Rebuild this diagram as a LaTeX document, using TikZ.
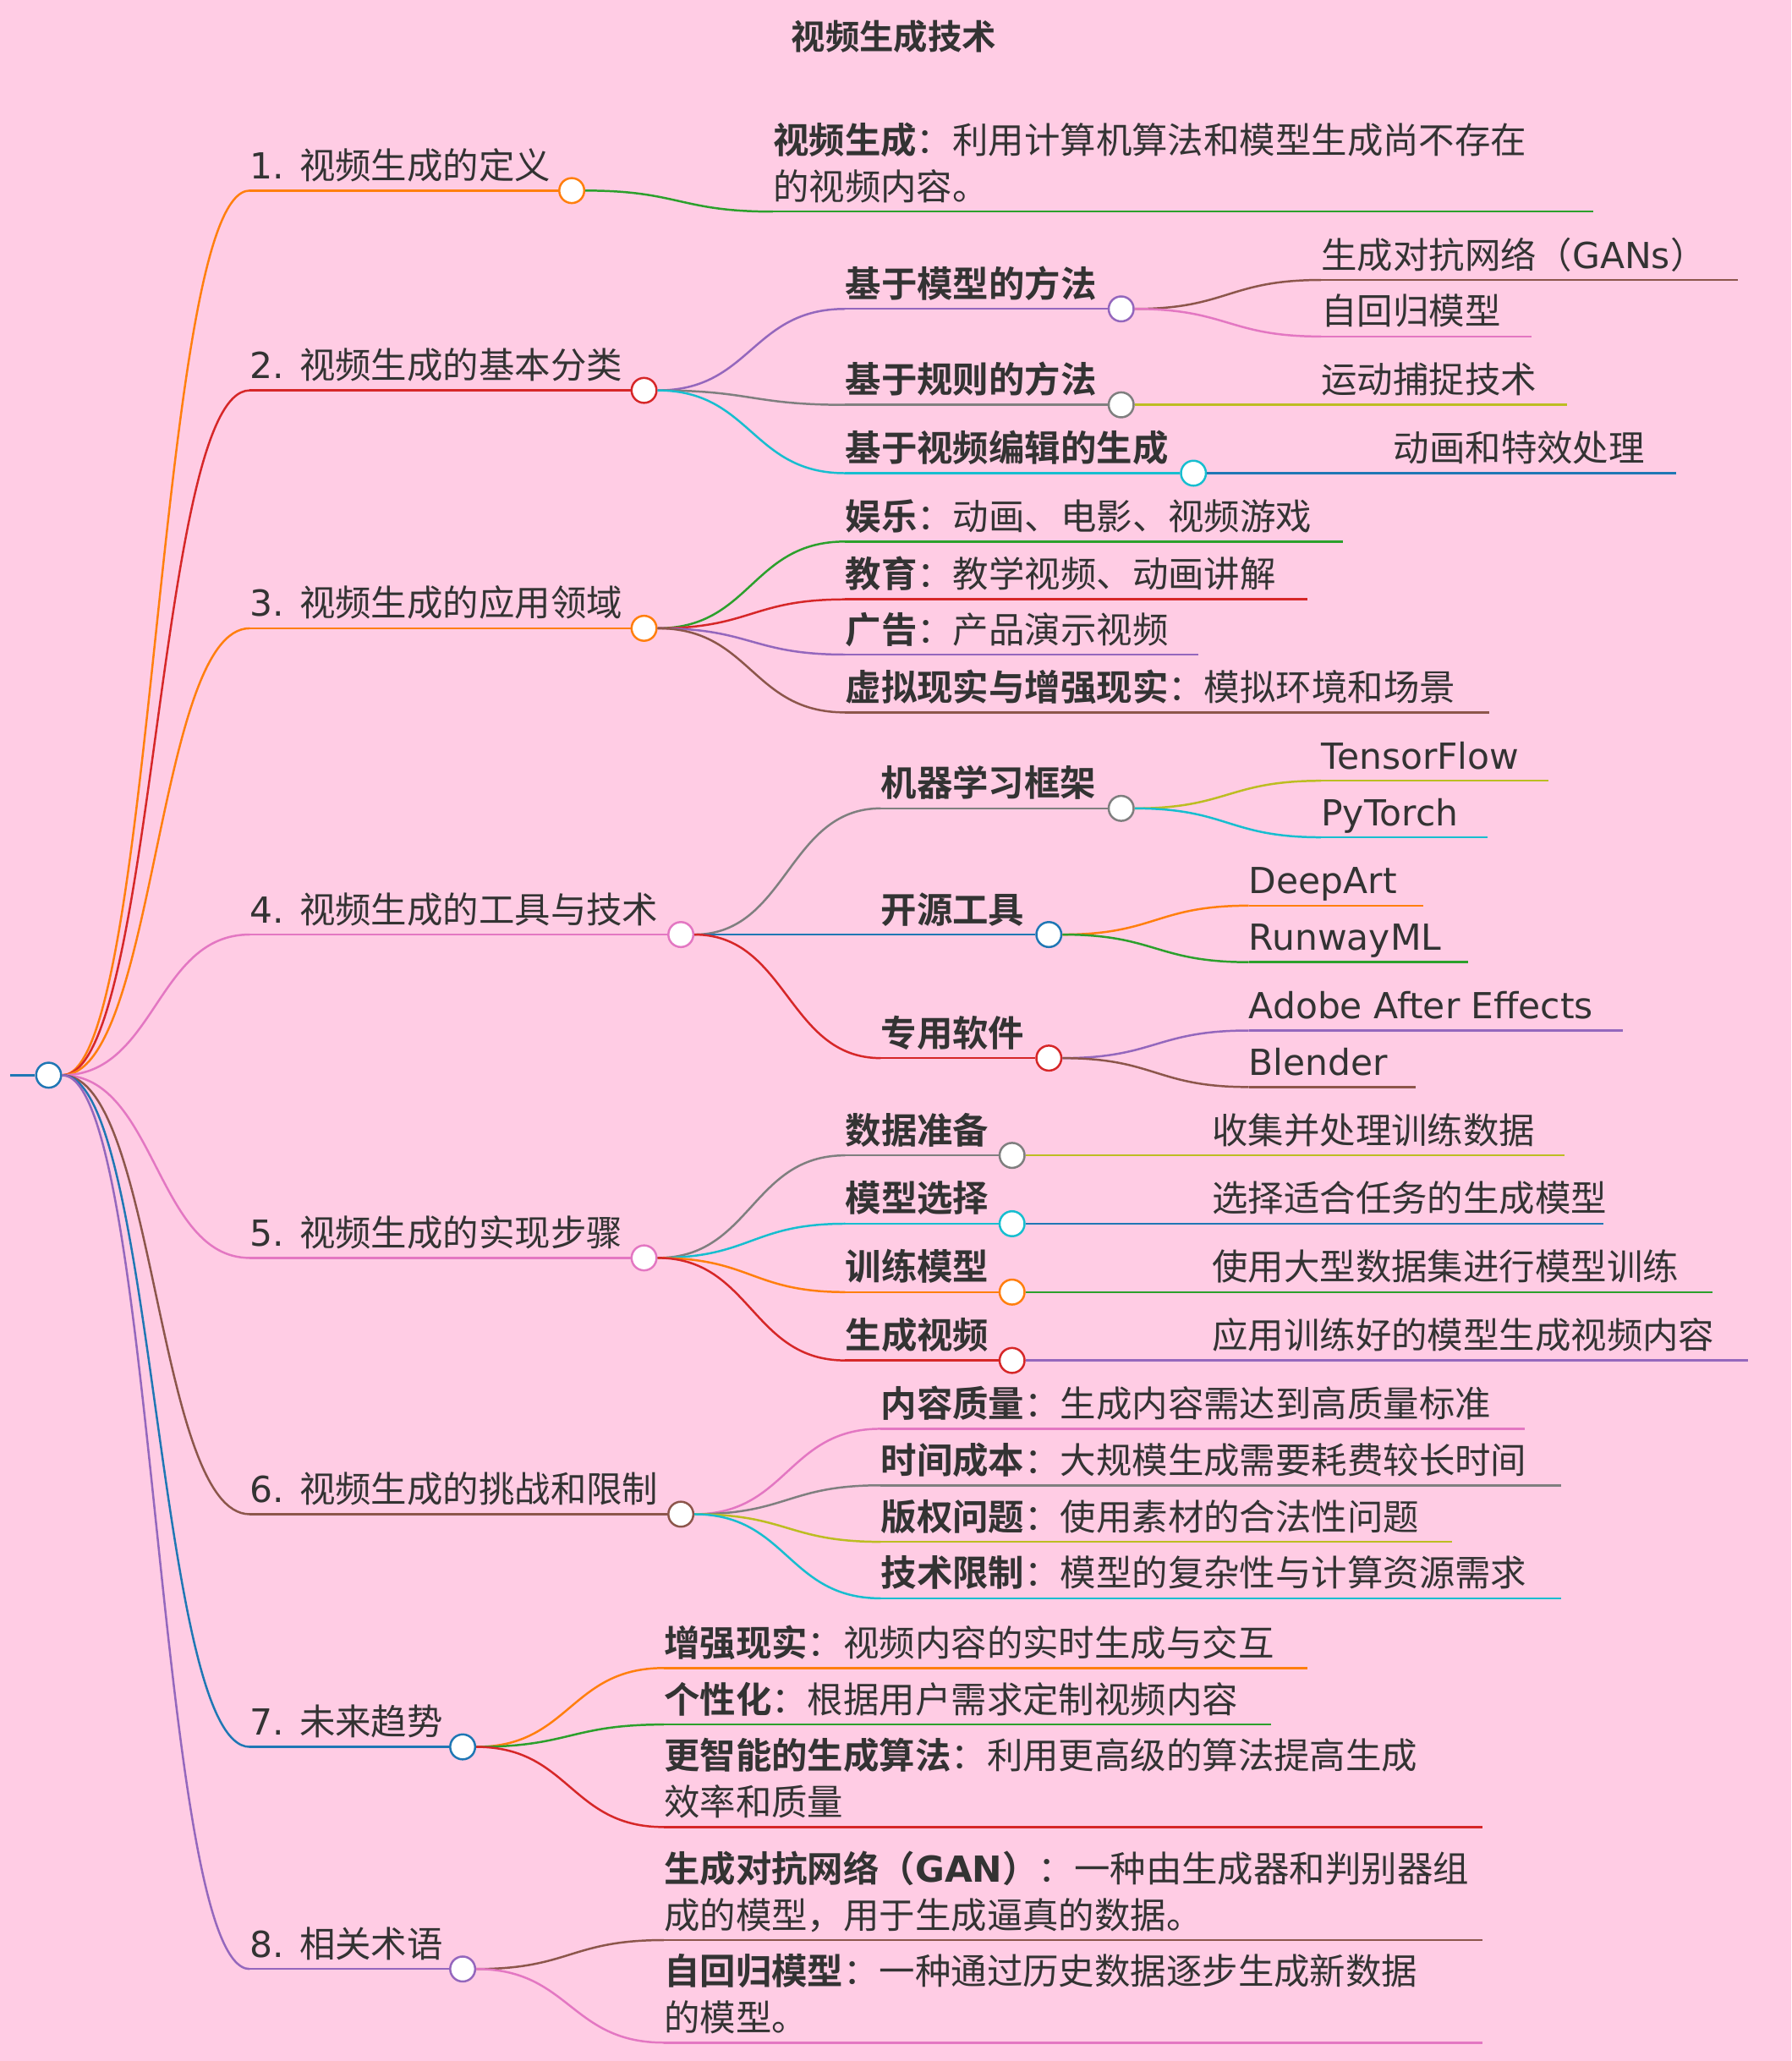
\documentclass[tikz,border=0pt]{standalone}
\usepackage{fontspec}
\usetikzlibrary{calc}
\setmainfont{Noto Sans CJK SC}[BoldFont={Noto Sans CJK SC Bold}]
\newfontfamily\dv{DejaVu Sans}
\definecolor{bg}{HTML}{FFCCE4}
\definecolor{cO}{HTML}{FF7F0E}\definecolor{cR}{HTML}{D62728}\definecolor{cG}{HTML}{2CA02C}
\definecolor{cP}{HTML}{9467BD}\definecolor{cB}{HTML}{8C564B}\definecolor{cK}{HTML}{E377C2}
\definecolor{cY}{HTML}{7F7F7F}\definecolor{cV}{HTML}{BCBD22}\definecolor{cC}{HTML}{17BECF}
\definecolor{cL}{HTML}{1F77B4}\definecolor{tx}{HTML}{333333}
\tikzset{
 mmdot/.style={circle,draw=#1,fill=white,line width=1.6pt,minimum size=19pt,inner sep=0pt},
 mmline/.style={draw=#1,line width=1.6pt},
 lbl/.style={anchor=base west,inner sep=0pt,text=tx,font=\fontsize{27.3}{32}\selectfont},
}
\newcommand\mmcurve[3]{% color, from, to
 \draw[mmline=#1] let \p1=(#2), \p2=(#3) in
  (\p1) .. controls ({(\x1+\x2)/2},\y1) and ({(\x1+\x2)/2},\y2) .. (\p2);}
\newcommand\mmnode[7]{%
 \coordinate (#1s) at (#4,#6);
 \node[mmdot=#3] (#1) at (#5,#6) {};
 \mmcurve{#3}{#2.east}{#1s}
 \draw[mmline=#3] (#1s) -- (#1.west);
 \node[lbl] (#1t) at (#4,#6-9) {#7};}
\newcommand\mmleaf[7]{%
 \coordinate (#1s) at (#4,#6);
 \coordinate (#1) at (#5,#6);
 \mmcurve{#3}{#2.east}{#1s}
 \draw[mmline=#3] (#1s) -- (#1);
 \node[lbl] (#1t) at (#4,#6-9) {#7};}
\begin{document}
\begin{tikzpicture}[x=1pt,y=-1pt]
\fill[bg] (0,0) rectangle (1363,1568);
\useasboundingbox (0,0) rectangle (1363,1568);
\node[font=\fontsize{26}{30}\selectfont\bfseries,text=tx] (title) at (680,28) {视频生成技术};
\node[mmdot=cL] (root) at (37,818) {};
\coordinate (r0) at (8,818);
\draw[mmline=cL] (r0) -- (root.west);
% 1
\mmnode{a}{root}{cO}{190}{435}{145}{{\dv 1. }视频生成的定义}
\mmleaf{a1}{a}{cG}{588}{1212}{161}{}
\node[lbl] (a1l1) at (588,117) {\textbf{视频生成}：利用计算机算法和模型生成尚不存在};
\node[lbl] (a1l2) at (588,152) {的视频内容。};
% 2
\mmnode{b}{root}{cR}{190}{490}{297}{{\dv 2. }视频生成的基本分类}
\mmnode{b1}{b}{cP}{643}{853}{235}{\textbf{基于模型的方法}}
\mmleaf{b11}{b1}{cB}{1005}{1322}{213}{生成对抗网络（{\dv GANs}）}
\mmleaf{b12}{b1}{cK}{1005}{1165}{256}{自回归模型}
\mmnode{b2}{b}{cY}{643}{853}{308}{\textbf{基于规则的方法}}
\mmleaf{b21}{b2}{cV}{1005}{1192}{308}{运动捕捉技术}
\mmnode{b3}{b}{cC}{643}{908}{360}{\textbf{基于视频编辑的生成}}
\mmleaf{b31}{b3}{cL}{1060}{1275}{360}{动画和特效处理}
% 3
\mmnode{c}{root}{cO}{190}{490}{478}{{\dv 3. }视频生成的应用领域}
\mmleaf{c1}{c}{cG}{643}{1022}{412}{\textbf{娱乐}：动画、电影、视频游戏}
\mmleaf{c2}{c}{cR}{643}{995}{456}{\textbf{教育}：教学视频、动画讲解}
\mmleaf{c3}{c}{cP}{643}{912}{498}{\textbf{广告}：产品演示视频}
\mmleaf{c4}{c}{cB}{643}{1133}{542}{\textbf{虚拟现实与增强现实}：模拟环境和场景}
% 4
\mmnode{d}{root}{cK}{190}{518}{711}{{\dv 4. }视频生成的工具与技术}
\mmnode{d1}{d}{cY}{670}{853}{615}{\textbf{机器学习框架}}
\mmleaf{d11}{d1}{cV}{1005}{1178}{594}{\dv TensorFlow}
\mmleaf{d12}{d1}{cC}{1005}{1132}{637}{\dv PyTorch}
\mmnode{d2}{d}{cL}{670}{798}{711}{\textbf{开源工具}}
\mmleaf{d21}{d2}{cO}{950}{1083}{689}{\dv DeepArt}
\mmleaf{d22}{d2}{cG}{950}{1117}{732}{\dv RunwayML}
\mmnode{d3}{d}{cR}{670}{798}{805}{\textbf{专用软件}}
\mmleaf{d31}{d3}{cP}{950}{1235}{784}{\dv Adobe After Effects}
\mmleaf{d32}{d3}{cB}{950}{1077}{827}{\dv Blender}
% 5
\mmnode{e}{root}{cK}{190}{490}{957}{{\dv 5. }视频生成的实现步骤}
\mmnode{e1}{e}{cY}{643}{770}{879}{\textbf{数据准备}}
\mmleaf{e11}{e1}{cV}{922}{1190}{879}{收集并处理训练数据}
\mmnode{e2}{e}{cC}{643}{770}{931}{\textbf{模型选择}}
\mmleaf{e21}{e2}{cL}{922}{1220}{931}{选择适合任务的生成模型}
\mmnode{e3}{e}{cO}{643}{770}{983}{\textbf{训练模型}}
\mmleaf{e31}{e3}{cG}{922}{1303}{983}{使用大型数据集进行模型训练}
\mmnode{e4}{e}{cR}{643}{770}{1035}{\textbf{生成视频}}
\mmleaf{e41}{e4}{cP}{922}{1330}{1035}{应用训练好的模型生成视频内容}
% 6
\mmnode{f}{root}{cB}{190}{518}{1152}{{\dv 6. }视频生成的挑战和限制}
\mmleaf{f1}{f}{cK}{670}{1160}{1087}{\textbf{内容质量}：生成内容需达到高质量标准}
\mmleaf{f2}{f}{cY}{670}{1188}{1130}{\textbf{时间成本}：大规模生成需要耗费较长时间}
\mmleaf{f3}{f}{cV}{670}{1105}{1173}{\textbf{版权问题}：使用素材的合法性问题}
\mmleaf{f4}{f}{cC}{670}{1188}{1216}{\textbf{技术限制}：模型的复杂性与计算资源需求}
% 7
\mmnode{g}{root}{cL}{190}{352}{1329}{{\dv 7. }未来趋势}
\mmleaf{g1}{g}{cO}{505}{995}{1269}{\textbf{增强现实}：视频内容的实时生成与交互}
\mmleaf{g2}{g}{cG}{505}{967}{1312}{\textbf{个性化}：根据用户需求定制视频内容}
\mmleaf{g3}{g}{cR}{505}{1128}{1390}{}
\node[lbl] (g3l1) at (505,1346) {\textbf{更智能的生成算法}：利用更高级的算法提高生成};
\node[lbl] (g3l2) at (505,1381) {效率和质量};
% 8
\mmnode{h}{root}{cP}{190}{352}{1498}{{\dv 8. }相关术语}
\mmleaf{h1}{h}{cB}{505}{1128}{1476}{}
\node[lbl] (h1l1) at (505,1432) {\textbf{生成对抗网络（{\dv GAN}）}：一种由生成器和判别器组};
\node[lbl] (h1l2) at (505,1467) {成的模型，用于生成逼真的数据。};
\mmleaf{h2}{h}{cK}{505}{1128}{1554}{}
\node[lbl] (h2l1) at (505,1510) {\textbf{自回归模型}：一种通过历史数据逐步生成新数据};
\node[lbl] (h2l2) at (505,1545) {的模型。};
\end{tikzpicture}
\end{document}
